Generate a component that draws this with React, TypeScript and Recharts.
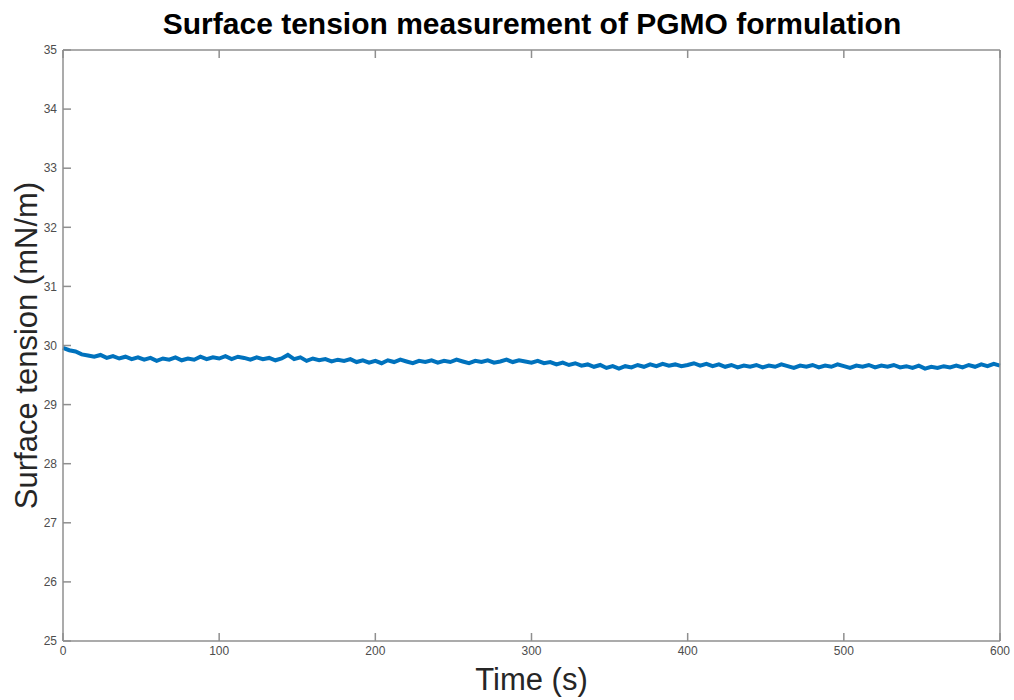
import { Line, LineChart, XAxis, YAxis } from "recharts"

// sampled every 4 s, 0..600 s
const sampleStep = 4
const tension = [
  29.96, 29.92, 29.9, 29.85, 29.83, 29.81, 29.84, 29.79, 29.82, 29.78,
  29.81, 29.77, 29.8, 29.76, 29.79, 29.74, 29.78, 29.76, 29.8, 29.75,
  29.78, 29.76, 29.81, 29.77, 29.8, 29.78, 29.82, 29.77, 29.81, 29.79,
  29.76, 29.8, 29.77, 29.79, 29.75, 29.78, 29.84, 29.77, 29.8, 29.74,
  29.78, 29.75, 29.77, 29.73, 29.76, 29.74, 29.77, 29.72, 29.75, 29.71,
  29.74, 29.7, 29.75, 29.72, 29.76, 29.73, 29.7, 29.74, 29.72, 29.75,
  29.71, 29.74, 29.72, 29.76, 29.73, 29.7, 29.74, 29.72, 29.75, 29.71,
  29.73, 29.76, 29.72, 29.75, 29.73, 29.71, 29.74, 29.7, 29.72, 29.68,
  29.71, 29.67, 29.7, 29.66, 29.68, 29.64, 29.67, 29.62, 29.65, 29.61,
  29.65, 29.63, 29.67, 29.64, 29.68, 29.65, 29.69, 29.66, 29.68, 29.65,
  29.67, 29.7, 29.66, 29.69, 29.65, 29.68, 29.64, 29.67, 29.63, 29.66,
  29.64, 29.67, 29.63, 29.66, 29.64, 29.68, 29.65, 29.62, 29.66, 29.64,
  29.67, 29.63, 29.66, 29.64, 29.68, 29.65, 29.62, 29.66, 29.64, 29.67,
  29.63, 29.66, 29.64, 29.67, 29.63, 29.65, 29.62, 29.66, 29.61, 29.64,
  29.62, 29.65, 29.63, 29.66, 29.63, 29.67, 29.64, 29.68, 29.65, 29.69,
  29.66,
]
const xTicks = [0, 100, 200, 300, 400, 500, 600]
const yTicks = [25, 26, 27, 28, 29, 30, 31, 32, 33, 34, 35]

const data = tension.map((v, i) => ({ t: i * sampleStep, v }))

const axisColor = "#8f8f8f"
const font = "'Liberation Sans', Arial, sans-serif"
const tickStyle = { fontSize: 12, fill: "#4d4d4d", fontFamily: font }

// keeps the tick marks on the mirrored axes but draws no label
const NoLabel = () => null

export default function App() {
  return (
    <div style={{ position: "absolute", left: 0, top: 0, width: 1014, height: 700, background: "#fff" }}>
      <LineChart
        width={1014}
        height={700}
        data={data}
        margin={{ top: 49, right: 13, bottom: 0, left: 0 }}
      >
        <XAxis
          dataKey="t"
          type="number"
          domain={[0, 600]}
          ticks={xTicks}
          height={59}
          tickSize={-8}
          tickMargin={13}
          stroke={axisColor}
          strokeWidth={1.5}
          tick={tickStyle}
          label={{
            value: "Time (s)",
            position: "insideBottom",
            offset: 10,
            style: { fontSize: 31, fill: "#262626", fontFamily: font },
          }}
        />
        <XAxis
          xAxisId="top"
          orientation="top"
          dataKey="t"
          type="number"
          domain={[0, 600]}
          ticks={xTicks}
          height={1}
          tickSize={-8}
          tick={NoLabel}
          stroke={axisColor}
          strokeWidth={1.5}
        />
        <YAxis
          type="number"
          domain={[25, 35]}
          ticks={yTicks}
          width={63}
          tickSize={-8}
          tickMargin={14}
          stroke={axisColor}
          strokeWidth={1.5}
          tick={tickStyle}
          label={{
            value: "Surface tension (mN/m)",
            angle: -90,
            position: "insideLeft",
            offset: 26,
            style: { fontSize: 31, fill: "#262626", fontFamily: font, textAnchor: "middle" },
          }}
        />
        <YAxis
          yAxisId="right"
          orientation="right"
          type="number"
          domain={[25, 35]}
          ticks={yTicks}
          width={1}
          tickSize={-8}
          tick={NoLabel}
          stroke={axisColor}
          strokeWidth={1.5}
        />
        <Line
          type="linear"
          dataKey="v"
          stroke="#0072bd"
          strokeWidth={4}
          dot={false}
          isAnimationActive={false}
        />
        <text
          x={532}
          y={34}
          textAnchor="middle"
          style={{ fontSize: 30, fontWeight: "bold", fontFamily: font, fill: "#000" }}
        >
          Surface tension measurement of PGMO formulation
        </text>
      </LineChart>
    </div>
  )
}
